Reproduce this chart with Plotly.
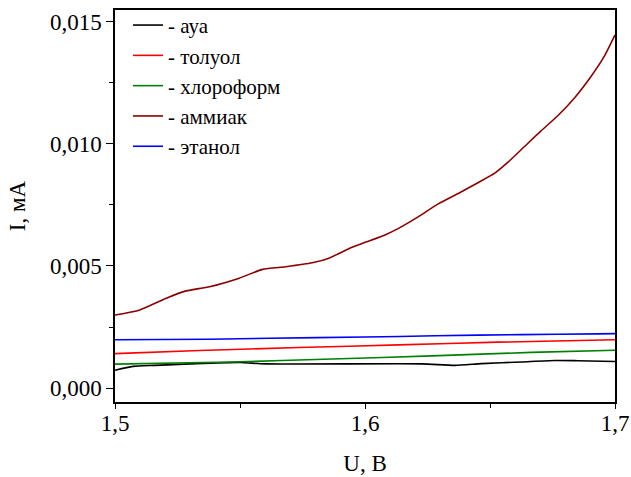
import plotly.graph_objects as go

# ---- data ----
x_air = [1.5, 1.5072, 1.516, 1.530, 1.550, 1.560, 1.6227, 1.636, 1.6466, 1.6625, 1.676, 1.685, 1.70]
y_air = [0.00073, 0.00089, 0.00093, 0.00099, 0.00105, 0.00099, 0.00099, 0.00093, 0.00100, 0.00107, 0.00113, 0.00112, 0.00109]

x_toluene = [1.5, 1.5338, 1.5736, 1.6134, 1.6532, 1.70]
y_toluene = [0.00141, 0.00154, 0.00166, 0.00177, 0.00188, 0.00198]

x_chloroform = [1.5, 1.547, 1.5869, 1.6267, 1.6665, 1.70]
y_chloroform = [0.00098, 0.00107, 0.00119, 0.00132, 0.00146, 0.00155]

x_ammonia = [1.5, 1.5099, 1.5205, 1.5285, 1.5378, 1.5497, 1.559, 1.5683, 1.5789, 1.5856,
             1.5948, 1.6001, 1.608, 1.6134, 1.6214, 1.6293, 1.6386, 1.6452, 1.6519, 1.6572,
             1.6638, 1.6704, 1.6771, 1.6837, 1.6904, 1.6957, 1.70]
y_ammonia = [0.00299, 0.00320, 0.00368, 0.00398, 0.00415, 0.00450, 0.00486, 0.00497, 0.00513, 0.00532,
             0.00577, 0.00597, 0.00627, 0.00654, 0.00702, 0.00754, 0.00804, 0.00841, 0.00880, 0.00925,
             0.00989, 0.01053, 0.01115, 0.01187, 0.01276, 0.01358, 0.01446]

x_ethanol = [1.5, 1.5378, 1.5617, 1.60, 1.628, 1.6625, 1.693, 1.70]
y_ethanol = [0.00198, 0.00200, 0.00204, 0.00209, 0.00214, 0.00219, 0.00222, 0.00223]

names = ["- ауа", "- толуол", "- хлороформ", "- аммиак", "- этанол"]
colors = ["#000000", "#ff0000", "#008000", "#8b0000", "#0000ff"]
series = [(x_air, y_air), (x_toluene, y_toluene), (x_chloroform, y_chloroform),
          (x_ammonia, y_ammonia), (x_ethanol, y_ethanol)]

x_ticks = [1.5, 1.6, 1.7]
y_ticks = [0.0, 0.005, 0.010, 0.015]

FONT = "Liberation Serif, Times New Roman, serif"

fig = go.Figure()
for (xs, ys), n, c in zip(series, names, colors):
    fig.add_trace(go.Scatter(x=xs, y=ys, name=n, mode="lines",
                             line=dict(color=c, width=1.6, shape="spline", smoothing=0.6)))

fig.update_layout(
    width=631, height=477,
    margin=dict(l=115, r=16, t=10, b=75, autoexpand=False),
    paper_bgcolor="white", plot_bgcolor="white",
    separators=", ",
    font=dict(family=FONT, size=23, color="black"),
    showlegend=True,
    legend=dict(x=0.026, y=1.013, xanchor="left", yanchor="top",
                bgcolor="rgba(0,0,0,0)", font=dict(family=FONT, size=21),
                tracegroupgap=0),
)
fig.update_xaxes(
    range=[1.5, 1.7], tickvals=x_ticks, tickformat=".1f", automargin=False,
    showline=True, linecolor="black", linewidth=1.5, mirror=True,
    ticks="outside", ticklen=5, tickwidth=1.2, tickcolor="black", showgrid=False, zeroline=False,
    ticklabelstandoff=-5,
    minor=dict(ticks="outside", ticklen=4, tickvals=[1.55, 1.65], tickcolor="black"),
    title=dict(text="U, В", font=dict(family=FONT, size=23), standoff=20),
)
fig.update_yaxes(
    range=[-0.00057, 0.01548], tickvals=y_ticks, tickformat=".3f", automargin=False,
    showline=True, linecolor="black", linewidth=1.5, mirror=True,
    ticks="outside", ticklen=7, tickwidth=1.2, tickcolor="black", showgrid=False, zeroline=False,
    minor=dict(ticks="outside", ticklen=4, tickvals=[0.0025, 0.0075, 0.0125], tickcolor="black"),
    title=dict(text="I, мА", font=dict(family=FONT, size=23), standoff=18),
)

fig.write_html("out.html", config={"displayModeBar": False},
               post_script="document.body.style.margin='0';")
